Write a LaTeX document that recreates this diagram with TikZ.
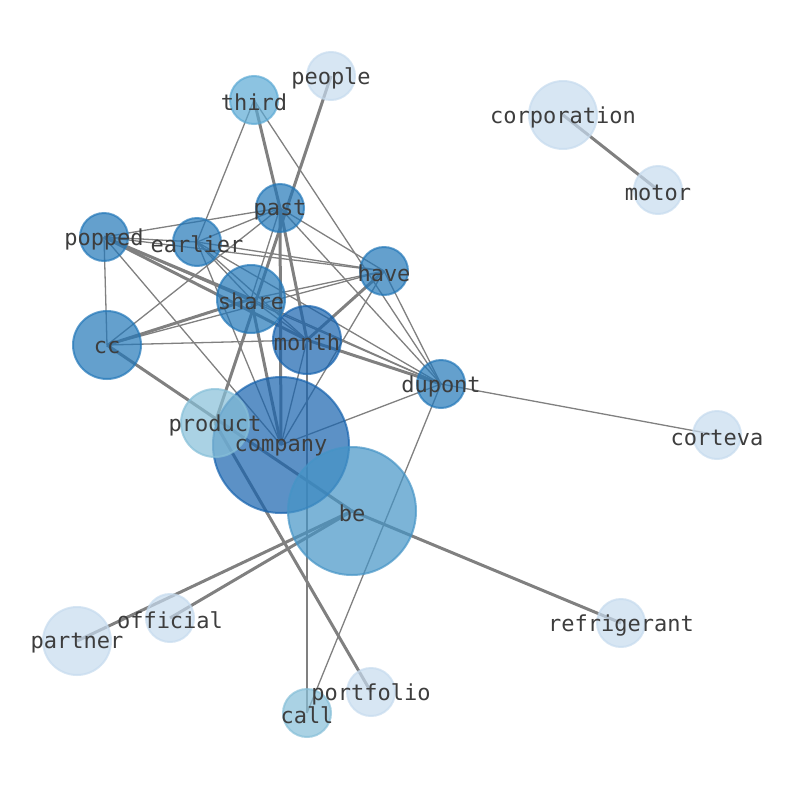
\documentclass[tikz,border=0pt]{standalone}
\usepackage{fontspec}
\setmonofont{DejaVu Sans Mono}
\usetikzlibrary{backgrounds}
\definecolor{bluedark}{HTML}{1763AE}
\definecolor{bluemid}{HTML}{2277B8}
\definecolor{bluebe}{HTML}{4594C6}
\definecolor{bluethird}{HTML}{5BA9D4}
\definecolor{bluepale}{HTML}{86BFD8}
\definecolor{bluelight}{HTML}{C6DBEE}
\tikzset{
  word/.style={circle, inner sep=0pt, fill opacity=0.7, draw opacity=0.7, line width=2pt},
  thinedge/.style={draw=black!50, line width=1.3pt},
  thickedge/.style={draw=black!50, line width=3pt},
  wordlabel/.style={font=\ttfamily\fontsize{22}{26}\selectfont, text=black!76, inner sep=0pt, yshift=-2.5pt}
}
\begin{document}
\begin{tikzpicture}[x=1pt, y=-1pt]
\useasboundingbox (0,0) rectangle (794,790);
% words
\foreach \name/\x/\y/\r/\col in {
  people/331/76/24/bluelight, third/254/100/24/bluethird,
  corporation/563/115/34/bluelight, motor/658/190/24/bluelight,
  past/280/208/24/bluemid, popped/104/237/24/bluemid,
  earlier/197/242/24/bluemid, have/384/271/24/bluemid,
  share/251/299/34/bluemid, month/307/340/34/bluedark,
  cc/107/345/34/bluemid, dupont/441/384/24/bluemid,
  company/281/445/68/bluedark, product/215/423/34/bluepale,
  corteva/717/435/24/bluelight, be/352/511/64/bluebe,
  refrigerant/621/623/24/bluelight, official/170/618/24/bluelight,
  partner/77/641/34/bluelight, portfolio/371/692/24/bluelight,
  call/307/713/24/bluepale}
  \node[word, minimum size=\r*2pt, fill=\col, draw=\col] (\name) at (\x,\y) {};
% links
\begin{pgfonlayer}{background}
\foreach \a/\b in {third/earlier, third/dupont, past/popped, past/earlier,
  past/cc, past/have, past/dupont, past/share, popped/earlier, popped/have,
  popped/cc, popped/company, popped/dupont, earlier/have, earlier/share,
  earlier/month, earlier/dupont, earlier/company, cc/have, cc/month,
  share/have, share/month, share/dupont, month/company, have/company,
  have/dupont, dupont/company, dupont/corteva, dupont/call, month/call}
  \draw[thinedge] (\a.center) -- (\b.center);
\foreach \a/\b in {people/product, third/past, past/month, past/company,
  corporation/motor, cc/share, cc/be, be/refrigerant, be/official,
  be/partner, product/portfolio, popped/share, popped/month,
  month/dupont, month/have, share/company}
  \draw[thickedge] (\a.center) -- (\b.center);
\end{pgfonlayer}
% labels
\foreach \name in {people, third, corporation, motor, past, popped, earlier,
  have, share, month, cc, dupont, company, product, corteva, be,
  refrigerant, official, partner, portfolio, call}
  \node[wordlabel] at (\name) {\name};
\end{tikzpicture}
\end{document}
